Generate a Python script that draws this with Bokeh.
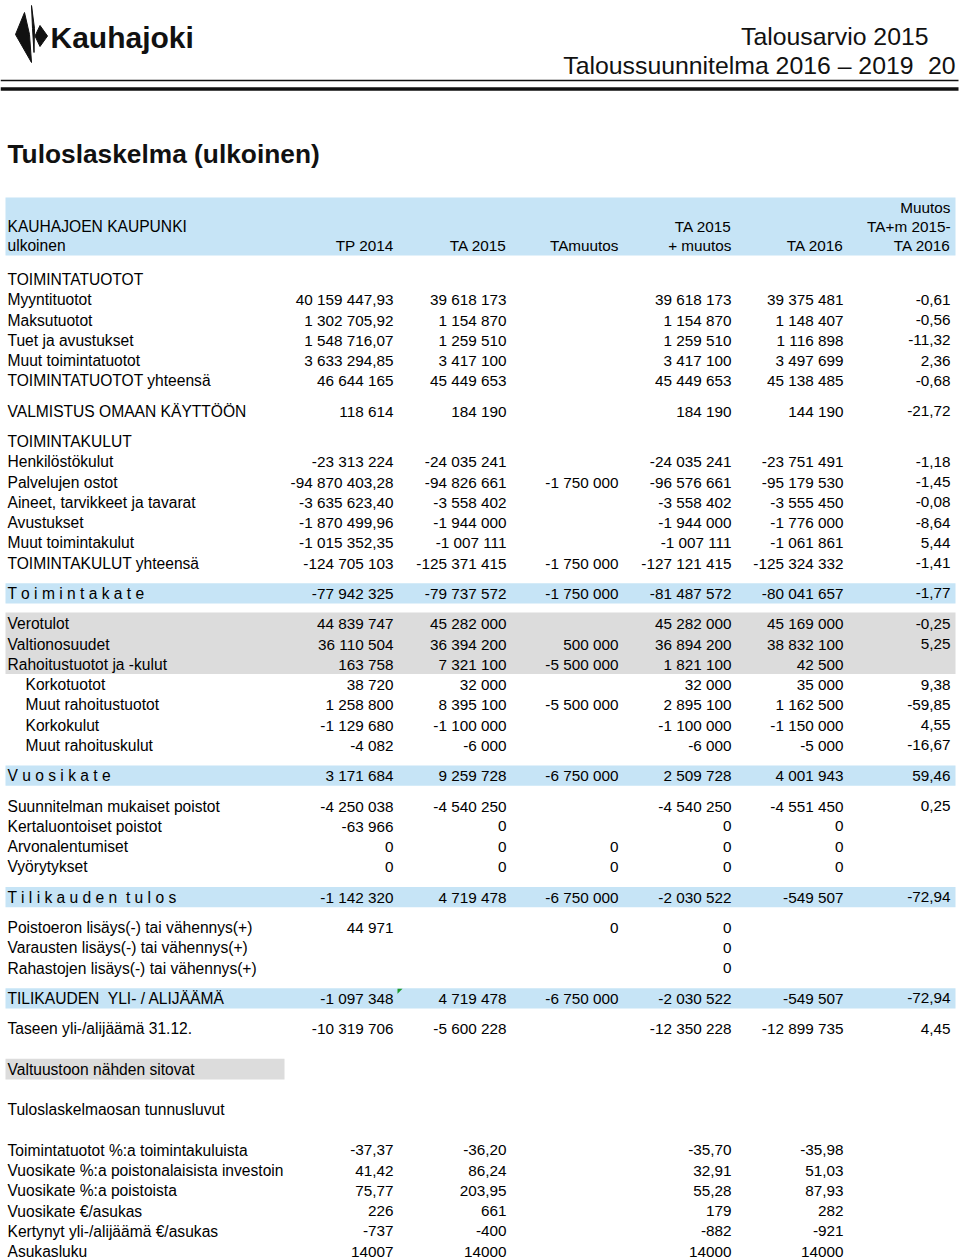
from bokeh.plotting import figure
from bokeh.models import ColumnDataSource, Range1d
from bokeh.core.properties import value
from bokeh.embed import file_html
from bokeh.resources import INLINE

# ---------------- data ----------------
row_labels = [
    "TOIMINTATUOTOT", "Myyntituotot", "Maksutuotot", "Tuet ja avustukset",
    "Muut toimintatuotot", "TOIMINTATUOTOT yhteensä", "VALMISTUS OMAAN KÄYTTÖÖN",
    "TOIMINTAKULUT", "Henkilöstökulut", "Palvelujen ostot",
    "Aineet, tarvikkeet ja tavarat", "Avustukset", "Muut toimintakulut",
    "TOIMINTAKULUT yhteensä", "T o i m i n t a k a t e", "Verotulot", "Valtionosuudet",
    "Rahoitustuotot ja -kulut", "Korkotuotot", "Muut rahoitustuotot", "Korkokulut",
    "Muut rahoituskulut", "V u o s i k a t e", "Suunnitelman mukaiset poistot",
    "Kertaluontoiset poistot", "Arvonalentumiset", "Vyörytykset",
    "T i l i k a u d e n \u00a0t u l o s",
    "Poistoeron lisäys(-) tai vähennys(+)", "Varausten lisäys(-) tai vähennys(+)",
    "Rahastojen lisäys(-) tai vähennys(+)", "TILIKAUDEN\u00a0 YLI- / ALIJÄÄMÄ",
    "Taseen yli-/alijäämä 31.12.", "Valtuustoon nähden sitovat",
    "Tuloslaskelmaosan tunnusluvut", "Toimintatuotot %:a toimintakuluista",
    "Vuosikate %:a poistonalaisista investoin", "Vuosikate %:a poistoista",
    "Vuosikate €/asukas", "Kertynyt yli-/alijäämä €/asukas", "Asukasluku",
]

tp_2014 = [
    "", "40 159 447,93", "1 302 705,92", "1 548 716,07", "3 633 294,85", "46 644 165",
    "118 614", "", "-23 313 224", "-94 870 403,28", "-3 635 623,40", "-1 870 499,96",
    "-1 015 352,35", "-124 705 103", "-77 942 325", "44 839 747", "36 110 504",
    "163 758", "38 720", "1 258 800", "-1 129 680", "-4 082", "3 171 684",
    "-4 250 038", "-63 966", "0", "0", "-1 142 320", "44 971", "", "",
    "-1 097 348", "-10 319 706", "", "", "-37,37", "41,42", "75,77", "226", "-737", "14007",
]
ta_2015 = [
    "", "39 618 173", "1 154 870", "1 259 510", "3 417 100", "45 449 653",
    "184 190", "", "-24 035 241", "-94 826 661", "-3 558 402", "-1 944 000",
    "-1 007 111", "-125 371 415", "-79 737 572", "45 282 000", "36 394 200",
    "7 321 100", "32 000", "8 395 100", "-1 100 000", "-6 000", "9 259 728",
    "-4 540 250", "0", "0", "0", "4 719 478", "", "", "",
    "4 719 478", "-5 600 228", "", "", "-36,20", "86,24", "203,95", "661", "-400", "14000",
]
ta_muutos = [
    "", "", "", "", "", "", "", "", "", "-1 750 000", "", "", "", "-1 750 000",
    "-1 750 000", "", "500 000", "-5 500 000", "", "-5 500 000", "", "", "-6 750 000",
    "", "", "0", "0", "-6 750 000", "0", "", "", "-6 750 000", "", "", "",
    "", "", "", "", "", "",
]
ta_2015_muutos = [
    "", "39 618 173", "1 154 870", "1 259 510", "3 417 100", "45 449 653",
    "184 190", "", "-24 035 241", "-96 576 661", "-3 558 402", "-1 944 000",
    "-1 007 111", "-127 121 415", "-81 487 572", "45 282 000", "36 894 200",
    "1 821 100", "32 000", "2 895 100", "-1 100 000", "-6 000", "2 509 728",
    "-4 540 250", "0", "0", "0", "-2 030 522", "0", "0", "0",
    "-2 030 522", "-12 350 228", "", "", "-35,70", "32,91", "55,28", "179", "-882", "14000",
]
ta_2016 = [
    "", "39 375 481", "1 148 407", "1 116 898", "3 497 699", "45 138 485",
    "144 190", "", "-23 751 491", "-95 179 530", "-3 555 450", "-1 776 000",
    "-1 061 861", "-125 324 332", "-80 041 657", "45 169 000", "38 832 100",
    "42 500", "35 000", "1 162 500", "-1 150 000", "-5 000", "4 001 943",
    "-4 551 450", "0", "0", "0", "-549 507", "", "", "",
    "-549 507", "-12 899 735", "", "", "-35,98", "51,03", "87,93", "282", "-921", "14000",
]
muutos_pct = [
    "", "-0,61", "-0,56", "-11,32", "2,36", "-0,68", "-21,72", "", "-1,18", "-1,45",
    "-0,08", "-8,64", "5,44", "-1,41", "-1,77", "-0,25", "5,25", "", "9,38", "-59,85",
    "4,55", "-16,67", "59,46", "0,25", "", "", "", "-72,94", "", "", "",
    "-72,94", "4,45", "", "", "", "", "", "", "", "",
]

columns = [tp_2014, ta_2015, ta_muutos, ta_2015_muutos, ta_2016, muutos_pct]
col_headers = [
    ["TP 2014"], ["TA 2015"], ["TAmuutos"], ["TA 2015", "+ muutos"],
    ["TA 2016"], ["Muutos", "TA+m 2015-", "TA 2016"],
]
left_header = ["KAUHAJOEN KAUPUNKI", "ulkoinen"]

# ---------------- layout ----------------
ROW_SLOTS = [0, 1, 2, 3, 4, 5, 6.5, 8, 9, 10, 11, 12, 13, 14, 15.5, 17, 18, 19,
             20, 21, 22, 23, 24.5, 26, 27, 28, 29, 30.5, 32, 33, 34, 35.5, 37,
             39, 41, 43, 44, 45, 46, 47, 48]
BLUE_ROWS = [14, 22, 27, 31]
GRAY_RANGE = (15, 17)
GRAY_BOX_ROW = 33
INDENT_ROWS = [18, 19, 20, 21]
Y0, PITCH = 279.0, 20.25
COL_X = [393, 506, 618, 731, 843, 950]
LABEL_X, INDENT_X = 7, 25
HEAD_BOTTOM_Y, HEAD_PITCH = 245, 19
BAND_L, BAND_R = 5, 955

BLUE = "#C6E4F6"
GRAY = "#DCDCDC"
FONT = value("Liberation Sans")
FS_LABEL = "15.6px"
FS_NUM = "15.3px"

row_y = [Y0 + s * PITCH for s in ROW_SLOTS]

p = figure(width=960, height=1259, x_range=Range1d(0, 960), y_range=Range1d(1259, 0),
           output_backend="svg", toolbar_location=None, min_border=0,
           x_axis_type=None, y_axis_type=None)
p.outline_line_color = None
p.grid.visible = False
p.background_fill_color = "white"
p.border_fill_color = "white"

# header rules
p.segment(x0=[0, 0], x1=[958, 958], y0=[80, 88.5], y1=[80, 88.5],
          line_color="#111111", line_width=[1.5, 3.5])

# logo
p.patch([24, 15, 31, 29], [12, 34, 62, 34], color="#111111")
p.patch([31, 34, 33.5, 32], [5, 28, 52, 28], color="#111111")
p.patch([39.5, 47, 39.5, 34.5], [25, 35.5, 46, 35.5], color="#111111")
p.text(x=[50], y=[37], text=["Kauhajoki"], text_font=FONT, text_font_style="bold",
       text_font_size="30px", text_baseline="middle", text_color="#111111")

# page header
p.text(x=[928, 913, 955], y=[36, 65, 65],
       text=["Talousarvio 2015", "Taloussuunnitelma 2016 – 2019", "20"],
       text_font=FONT, text_font_size="24.8px", text_align="right",
       text_baseline="middle", text_color="#111111")

# title
p.text(x=[7], y=[153], text=["Tuloslaskelma (ulkoinen)"], text_font=FONT,
       text_font_style="bold", text_font_size="26.3px", text_baseline="middle",
       text_color="#111111")

# bands
p.quad(left=[BAND_L], right=[BAND_R], top=[197], bottom=[255], color=BLUE, line_color=None)
bl = [row_y[i] for i in BLUE_ROWS]
p.quad(left=BAND_L, right=BAND_R, top=[y - PITCH * 0.5 for y in bl],
       bottom=[y + PITCH * 0.5 for y in bl], color=BLUE, line_color=None)
g0, g1 = GRAY_RANGE
p.quad(left=[BAND_L], right=[BAND_R], top=[row_y[g0] - PITCH * 0.55],
       bottom=[row_y[g1] + PITCH * 0.48], color=GRAY, line_color=None)
p.quad(left=[BAND_L], right=[284], top=[row_y[GRAY_BOX_ROW] - PITCH * 0.52],
       bottom=[row_y[GRAY_BOX_ROW] + PITCH * 0.5], color=GRAY, line_color=None)

# column headers
hx, hy, ht = [], [], []
for cx, lines in zip(COL_X, col_headers):
    n = len(lines)
    for k, t in enumerate(lines):
        hx.append(cx)
        hy.append(HEAD_BOTTOM_Y - (n - 1 - k) * HEAD_PITCH)
        ht.append(t)
p.text(x=hx, y=hy, text=ht, text_font=FONT, text_font_size=FS_NUM, text_align="right",
       text_baseline="middle", text_color="black")
p.text(x=[LABEL_X] * 2, y=[HEAD_BOTTOM_Y - HEAD_PITCH, HEAD_BOTTOM_Y], text=left_header,
       text_font=FONT, text_font_size=FS_LABEL, text_baseline="middle", text_color="black")

# row labels
lx = [INDENT_X if i in INDENT_ROWS else LABEL_X for i in range(len(row_labels))]
p.text(x=lx, y=row_y, text=row_labels, text_font=FONT, text_font_size=FS_LABEL,
       text_baseline="middle", text_color="black")

# values
for cx, col in zip(COL_X, columns):
    xs = [cx for v in col if v]
    ys = [row_y[i] for i, v in enumerate(col) if v]
    ts = [v for v in col if v]
    src = ColumnDataSource(dict(x=xs, y=ys, t=ts))
    p.text(x="x", y="y", text="t", source=src, text_font=FONT, text_font_size=FS_NUM,
           text_align="right", text_baseline="middle", text_color="black")

# comment marker
mk = row_y[31] - PITCH * 0.5
p.patch([COL_X[0] + 4, COL_X[0] + 9, COL_X[0] + 4], [mk + 0.5, mk + 0.5, mk + 5.5],
        color="#1E9A2E", line_color=None)

open("out.html", "w").write(file_html(p, INLINE))
